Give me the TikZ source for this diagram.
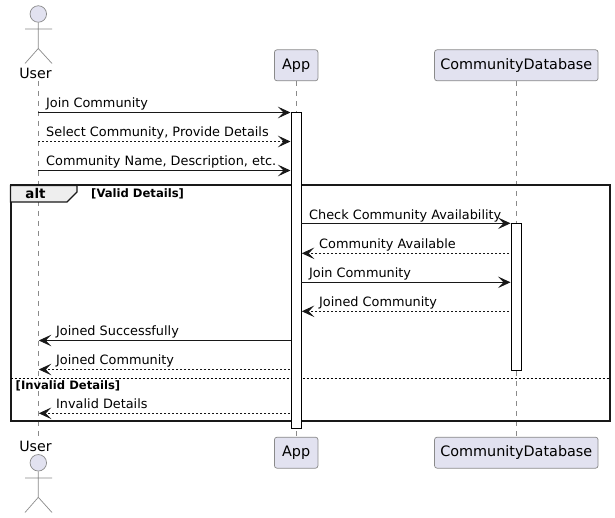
\documentclass[tikz,border=0pt]{standalone}
\usepackage{fontspec}
\setmainfont{DejaVu Sans}
\usetikzlibrary{arrows.meta}
\definecolor{pfill}{HTML}{E2E2F0}
\definecolor{pline}{HTML}{8A8A8A}
\definecolor{tabfill}{HTML}{EEEEEE}
\definecolor{ink}{HTML}{181818}
\tikzset{
 x=1pt,y=-1pt,
 part/.style={draw=pline,fill=pfill,rounded corners=2.5pt,line width=0.7pt,minimum height=31pt,inner sep=0pt,font=\fontsize{14.4}{14}\selectfont,text=black,anchor=center},
 actorname/.style={font=\fontsize{14.2}{14}\selectfont,text=black,anchor=base,inner sep=0pt},
 life/.style={draw=pline,line width=0.6pt,dash pattern=on 5pt off 5pt},
 limb/.style={draw=pline,line width=0.7pt},
 head/.style={draw=pline,fill=pfill,line width=0.7pt,circle,minimum size=16.5pt,inner sep=0pt},
 act/.style={draw=black,fill=white,line width=0.9pt,inner sep=0pt,minimum width=10pt},
 msg/.style={draw=ink,line width=0.9pt,-{Stealth[length=12.5pt,width=11.5pt,inset=5.5pt]}},
 dmsg/.style={msg,dash pattern=on 2pt off 2pt},
 lab/.style={font=\fontsize{12.85}{13}\selectfont,text=black,anchor=base west,inner sep=0pt},
 guard/.style={font=\fontsize{11.6}{12}\bfseries\selectfont,text=black,anchor=base west,inner sep=0pt},
 frameline/.style={draw=black!90,line width=2pt},
}
\begin{document}
\begin{tikzpicture}
\useasboundingbox (0,0) rectangle (615,518);
\fill[white] (0,0) rectangle (615,518);
% participants
\node[part,minimum width=43.5pt] (appT) at (296.2,65.3) {App};
\node[part,minimum width=163.5pt] (dbT) at (516.3,65.3) {CommunityDatabase};
\node[part,minimum width=43.5pt] (appB) at (296.2,452.7) {App};
\node[part,minimum width=163.5pt] (dbB) at (516.3,452.7) {CommunityDatabase};
\node[actorname] (userT) at (35.5,78.2) {User};
\node[actorname] (userB) at (35.5,451.4) {User};
\coordinate (uTop) at (38.3,81);
\coordinate (uBot) at (38.3,437);
% lifelines
\draw[life] (uTop) -- (uBot);
\draw[life] (appT) -- (appB);
\draw[life] (dbT) -- (dbB);
% actors
\node[head] (hT) at (38.3,14) {};
\coordinate (nT) at (38.3,48.5);
\coordinate (aTl) at (25,29);\coordinate (aTr) at (52,29);
\coordinate (lTl) at (25,63.5);\coordinate (lTr) at (52,63.5);
\draw[limb] (hT) -- (nT) (aTl) -- (aTr) (lTl) -- (nT) -- (lTr);
\node[head] (hB) at (38.3,462.8) {};
\coordinate (nB) at (38.3,497.3);
\coordinate (aBl) at (25,478);\coordinate (aBr) at (52,478);
\coordinate (lBl) at (25,512.5);\coordinate (lBr) at (52,512.5);
\draw[limb] (hB) -- (nB) (aBl) -- (aBr) (lBl) -- (nB) -- (lBr);
% alt frame
\draw[frameline] (10.5,185.5) rectangle (610,421);
\draw[frameline,line width=1.2pt,fill=tabfill] (10.5,185.5) -- (77,185.5) -- (77,192) -- (67,202) -- (10.5,202) -- cycle;
\draw[frameline] (10.5,185.5) -- (77,185.5);
\node[font=\fontsize{13.4}{13}\bfseries\selectfont,anchor=base,inner sep=0pt] (altL) at (35.5,199) {alt};
\node[guard] (g1) at (91,197.8) {[Valid Details]};
\node[guard] (g2) at (15.5,389.3) {[Invalid Details]};
\coordinate (sepL) at (10.5,378);\coordinate (sepR) at (610,378);
\draw[draw=black,line width=0.8pt,dash pattern=on 2pt off 2pt] (sepL) -- (sepR);
% activations
\node[act,minimum height=315.5pt,anchor=north] (actA) at (296.3,112.5) {};
\node[act,minimum height=146.5pt,anchor=north] (actD) at (516.5,223) {};
% anchors on lifelines
\coordinate (m1a) at (38.3,112.5);\coordinate (m1b) at (290.5,112.5);
\coordinate (m2a) at (38.3,141.5);\coordinate (m2b) at (290.5,141.5);
\coordinate (m3a) at (38.3,170.5);\coordinate (m3b) at (290.5,170.5);
\coordinate (m4a) at (301.3,223.3);\coordinate (m4b) at (510.5,223.3);
\coordinate (m5a) at (509,253.3);\coordinate (m5b) at (301.8,253.3);
\coordinate (m6a) at (301.3,282.3);\coordinate (m6b) at (510.5,282.3);
\coordinate (m7a) at (509,311.3);\coordinate (m7b) at (301.8,311.3);
\coordinate (m8a) at (291.3,340.5);\coordinate (m8b) at (38.8,340.5);
\coordinate (m9a) at (290,369.5);\coordinate (m9b) at (38.8,369.5);
\coordinate (m10a) at (290,413.3);\coordinate (m10b) at (38.8,413.3);
% messages
\draw[msg] (m1a) -- (m1b);
\draw[dmsg] (m2a) -- (m2b);
\draw[msg] (m3a) -- (m3b);
\draw[msg] (m4a) -- (m4b);
\draw[dmsg] (m5a) -- (m5b);
\draw[msg] (m6a) -- (m6b);
\draw[dmsg] (m7a) -- (m7b);
\draw[msg] (m8a) -- (m8b);
\draw[dmsg] (m9a) -- (m9b);
\draw[dmsg] (m10a) -- (m10b);
% labels
\node[lab] (t1) at (46,107.6) {Join Community};
\node[lab] (t2) at (46,136.6) {Select Community, Provide Details};
\node[lab] (t3) at (46,166) {Community Name, Description, etc.};
\node[lab] (t4) at (309,219.6) {Check Community Availability};
\node[lab] (t5) at (319,248.6) {Community Available};
\node[lab] (t6) at (309,277.6) {Join Community};
\node[lab] (t7) at (319,306.6) {Joined Community};
\node[lab] (t8) at (56,335.6) {Joined Successfully};
\node[lab] (t9) at (56,364.6) {Joined Community};
\node[lab] (t10) at (56,408.6) {Invalid Details};
\end{tikzpicture}
\end{document}
